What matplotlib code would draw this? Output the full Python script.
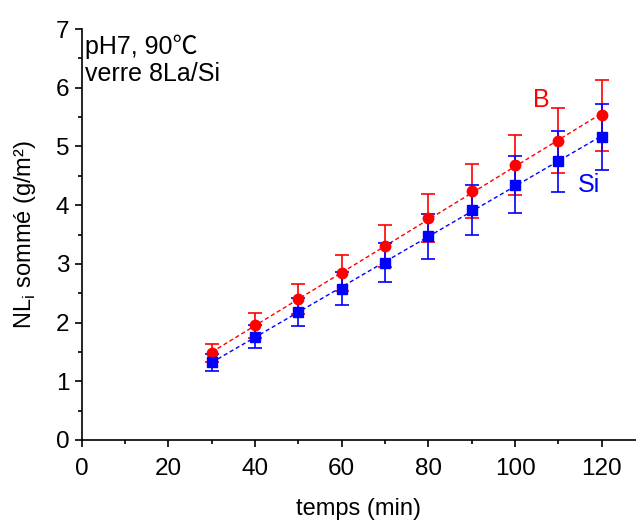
import numpy as np
import matplotlib.pyplot as plt

plt.rcParams['font.family'] = ['Liberation Sans', 'DejaVu Sans']
plt.rcParams['mathtext.fontset'] = 'custom'
plt.rcParams['mathtext.rm'] = 'Liberation Sans'

temps = [30, 40, 50, 60, 70, 80, 90, 100, 110, 120]
nl_b = [1.48, 1.95, 2.40, 2.84, 3.30, 3.78, 4.24, 4.68, 5.10, 5.53]
err_b = [0.16, 0.21, 0.26, 0.31, 0.36, 0.41, 0.46, 0.51, 0.56, 0.61]
nl_si = [1.32, 1.76, 2.18, 2.58, 3.02, 3.47, 3.92, 4.35, 4.75, 5.16]
err_si = [0.14, 0.19, 0.24, 0.28, 0.33, 0.38, 0.43, 0.48, 0.52, 0.56]

fig = plt.figure(figsize=(6.36, 5.2), dpi=100)
ax = fig.add_axes([0.1285, 0.154, 0.8715, 0.79])

x = np.array(temps)
for y, e, col, mk, ms in [(nl_b, err_b, '#ff0000', 'o', 7.5),
                          (nl_si, err_si, '#0000ff', 's', 6.5)]:
    ax.errorbar(temps, y, yerr=e, fmt=mk, color=col, ms=ms, ecolor=col,
                elinewidth=1.2, capsize=5, capthick=1.2, zorder=3)
    # droite de regression
    p = np.polyfit(x, y, 1)
    ax.plot(x, np.polyval(p, x), ls=(0, (3, 2)), color=col, lw=1, zorder=2)

ax.text(106, 5.8, 'B', color='#ff0000', fontsize=18, ha='center', va='center')
ax.text(117, 4.34, 'Si', color='#0000ff', fontsize=18, ha='center', va='center')
ax.text(0.8, 6.9, 'pH7, 90\u2103\nverre 8La/Si', fontsize=18, ha='left', va='top',
        linespacing=1.15, family=['Liberation Sans', 'Noto Sans CJK SC', 'DejaVu Sans'])

ax.set_xlim(0, 127.9)
ax.set_ylim(0, 7)
ax.set_xticks(range(0, 121, 20))
ax.set_xticks(range(0, 121, 10), minor=True)
ax.set_yticks(range(0, 8))
ax.set_yticks(np.arange(0, 7.01, 0.5), minor=True)
ax.tick_params(direction='out', length=5, width=1.2, labelsize=17.5)
ax.tick_params(axis='x', pad=8)
ax.tick_params(axis='y', pad=4)
ax.tick_params(which='minor', direction='out', length=3, width=1.2)
for s in ['top', 'right']:
    ax.spines[s].set_visible(False)
for s in ['left', 'bottom']:
    ax.spines[s].set_linewidth(1.2)

ax.set_xlabel('temps (min)', fontsize=17, labelpad=13)
ax.set_ylabel(r'NL$_\mathregular{i}$ sommé (g/m²)', fontsize=17, labelpad=13)

fig.savefig('out.png', dpi=100)
